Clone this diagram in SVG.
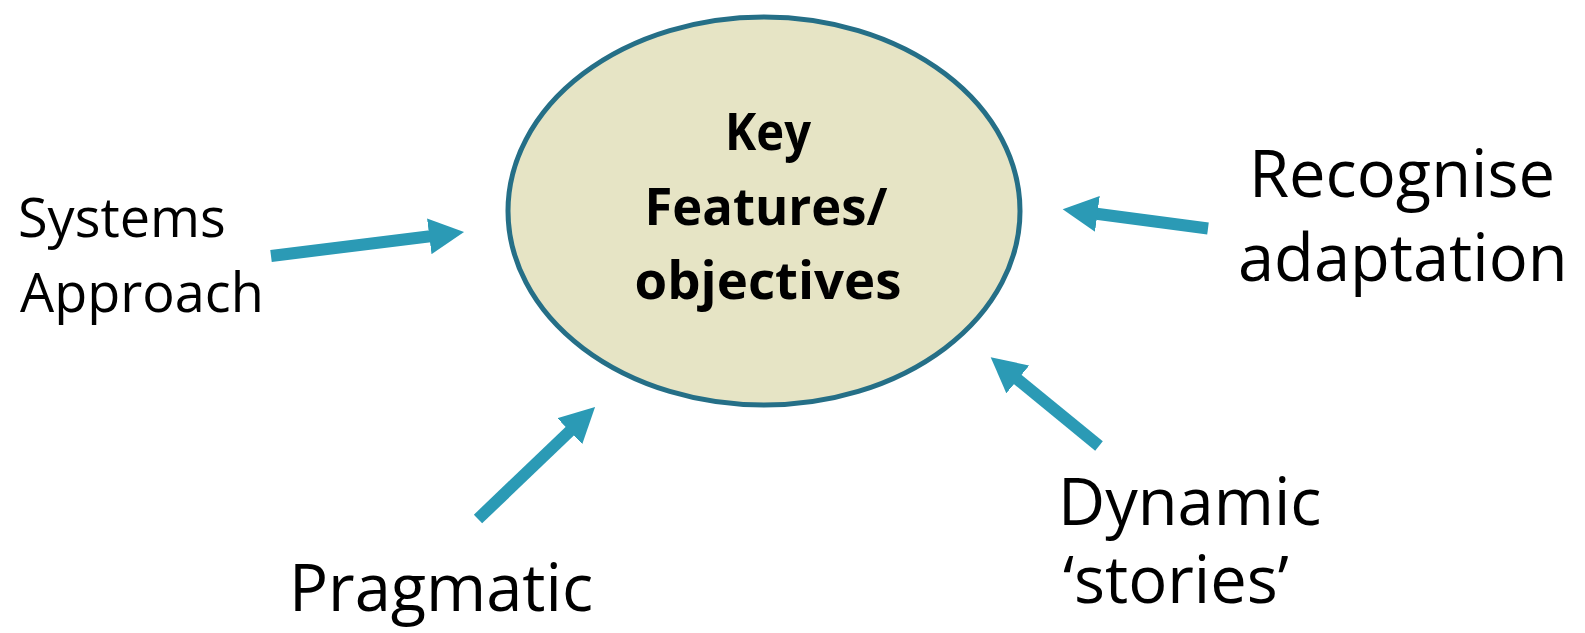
<svg xmlns="http://www.w3.org/2000/svg" width="1585" height="633" viewBox="0 0 1585 633">
  <style>
    .lbl { font-family: "Open Sans", "Noto Sans", "Liberation Sans", sans-serif; fill: #000; }
    .sm { font-size: 54px; }
    .lg { font-size: 65px; }
    .ctr { font-family: "Open Sans", "Noto Sans", "Liberation Sans", sans-serif; font-weight: bold; font-size: 52px; fill: #000; text-anchor: middle; }
    .arrow { stroke: #2b9ab5; stroke-width: 12; fill: none; marker-end: url(#head); }
  </style>
  <defs>
    <marker id="head" markerUnits="userSpaceOnUse" viewBox="0 -18 36 36" markerWidth="36" markerHeight="36" refX="1" refY="0" orient="auto">
      <path d="M0,-18 L35,0 L0,18 z" fill="#2b9ab5"/>
    </marker>
  </defs>
  <rect width="1585" height="633" fill="#ffffff"/>
  <g id="center">
    <ellipse cx="764" cy="211" rx="256" ry="194" fill="#e6e4c5" stroke="#256f87" stroke-width="5"/>
    <text class="ctr" x="768" y="150" textLength="86" lengthAdjust="spacingAndGlyphs">Key</text>
    <text class="ctr" x="766" y="225" textLength="243" lengthAdjust="spacingAndGlyphs">Features/</text>
    <text class="ctr" x="768" y="299" textLength="267" lengthAdjust="spacingAndGlyphs">objectives</text>
  </g>
  <g id="systems">
    <text class="lbl sm" x="18" y="237">Systems</text>
    <text class="lbl sm" x="20" y="312">Approach</text>
  </g>
  <g id="recognise">
    <text class="lbl lg" x="1249" y="197">Recognise</text>
    <text class="lbl lg" x="1238" y="281">adaptation</text>
  </g>
  <g id="pragmatic">
    <text class="lbl lg" x="289" y="611">Pragmatic</text>
  </g>
  <g id="dynamic">
    <text class="lbl lg" x="1058" y="525">Dynamic</text>
    <text class="lbl lg" x="1063" y="603">‘stories’</text>
  </g>
  <g id="connectors">
    <line class="arrow" x1="271" y1="256" x2="430.3" y2="236.2"/>
    <line class="arrow" x1="478" y1="519" x2="570.5" y2="430.5"/>
    <line class="arrow" x1="1099" y1="446" x2="1017" y2="378.8"/>
    <line class="arrow" x1="1208" y1="228.5" x2="1096.4" y2="213.8"/>
  </g>
</svg>
